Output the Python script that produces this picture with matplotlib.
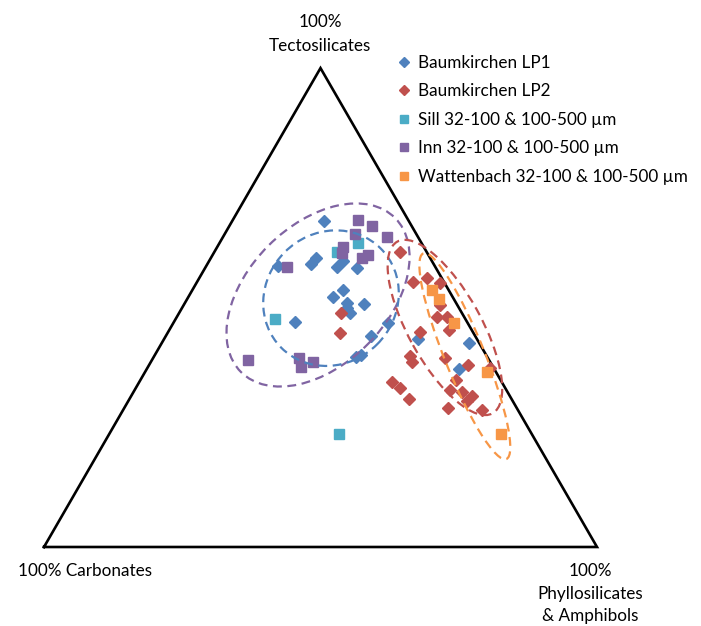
import matplotlib as mpl
mpl.use('Agg')
import matplotlib.pyplot as plt
from matplotlib.patches import Ellipse
import numpy as np

plt.rcParams['font.family'] = ['Lato', 'DejaVu Sans']

# ternary compositions in % : tecto (top), phyllo (bottom right); carbonates = rest
lp1_tecto = [68.1, 58.7, 59.1, 60.3, 58.5, 59.7, 58.2, 53.7, 52.2, 50.9, 49.9, 48.9, 50.7, 47.0, 46.8, 44.1, 39.7, 40.1, 43.4, 42.6, 37.2]
lp1_phyllo = [16.6, 13.0, 18.8, 19.0, 23.8, 24.2, 27.5, 27.3, 26.2, 29.3, 29.9, 30.9, 32.5, 21.9, 38.8, 37.0, 36.6, 37.3, 45.9, 55.6, 56.4]

lp2_tecto = [61.6, 55.3, 56.2, 55.1, 50.5, 48.0, 48.0, 45.3, 44.9, 48.9, 44.7, 39.9, 38.6, 39.5, 38.0, 34.9, 37.4, 34.4, 33.2, 30.9, 32.8, 32.4, 31.5, 30.5, 29.0, 28.6]
lp2_phyllo = [33.6, 39.0, 41.2, 44.0, 46.3, 47.1, 48.9, 50.5, 45.6, 29.3, 31.2, 46.3, 47.2, 52.8, 57.7, 57.1, 62.0, 45.7, 47.8, 50.5, 57.0, 59.4, 61.6, 61.3, 58.6, 64.9]

sill_tecto = [61.6, 63.5, 47.6, 23.6]
sill_phyllo = [22.2, 25.1, 18.0, 41.5]

inn_tecto = [68.3, 67.0, 64.7, 65.3, 62.6, 61.4, 60.3, 61.0, 58.5, 39.0, 39.5, 37.6, 38.6]
inn_phyllo = [22.7, 25.8, 29.6, 23.5, 22.8, 23.2, 27.3, 28.1, 14.7, 17.4, 26.4, 27.7, 29.3]

watt_tecto = [53.7, 51.8, 46.8, 36.5, 23.6]
watt_phyllo = [43.4, 45.5, 50.7, 61.8, 70.8]

labels = ['Baumkirchen LP1', 'Baumkirchen LP2', 'Sill 32-100 & 100-500 µm',
          'Inn 32-100 & 100-500 µm', 'Wattenbach 32-100 & 100-500 µm']
colors = ['#4F81BD', '#C0504D', '#4BACC6', '#8064A2', '#F79646']


def tern(tecto, phyllo):
    t = np.array(tecto) / 100.0
    p = np.array(phyllo) / 100.0
    x = p + t / 2.0
    y = t * np.sqrt(3) / 2.0
    return x, y


def px(x, y):
    # pixel position in the picture -> axes data coords
    return (x - 44) / 553.0, (547 - y) / 553.0


fig = plt.figure(figsize=(7.01, 6.26), dpi=100)
ax = fig.add_axes([0, 0, 1, 1])
ax.set_xlim(-44 / 553, 657 / 553)
ax.set_ylim(-79 / 553, 547 / 553)
ax.set_aspect('equal')
ax.axis('off')

# triangle
h = np.sqrt(3) / 2
ax.plot([0, 1, 0.5, 0], [0, 0, h, 0], color='black', lw=1.9, zorder=1, solid_joinstyle='miter')

series = [(lp1_tecto, lp1_phyllo, 'D', 6.4),
          (lp2_tecto, lp2_phyllo, 'D', 6.4),
          (sill_tecto, sill_phyllo, 's', 7.2),
          (inn_tecto, inn_phyllo, 's', 7.2),
          (watt_tecto, watt_phyllo, 's', 7.2)]
handles = []
for (t, p, m, ms), c, lab in zip(series, colors, labels):
    x, y = tern(t, p)
    ln, = ax.plot(x, y, linestyle='none', marker=m, ms=ms, color=c, mec=c, zorder=3, label=lab)
    handles.append(ln)

# dashed ellipses (drawn by hand in the original)
ell = [((0.4955, 0.4557), 0.394, 0.253, 45, colors[3]),
       ((0.519, 0.450), 0.254, 0.236, 45, colors[0]),
       ((0.725, 0.397), 0.355, 0.132, -61, colors[1]),
       ((0.761, 0.345), 0.401, 0.072, -68, colors[4])]
for cen, w, hh, ang, c in ell:
    e = Ellipse(cen, w, hh, angle=ang, fill=False, edgecolor=c, lw=1.6,
                linestyle=(0, (4, 2.5)), zorder=4)
    ax.add_patch(e)

fs = 12.3
ax.text(*px(320, 22), '100%', ha='center', va='center', fontsize=fs)
ax.text(*px(320, 46), 'Tectosilicates', ha='center', va='center', fontsize=fs)
ax.text(*px(18, 571), '100% Carbonates', ha='left', va='center', fontsize=fs)
ax.text(*px(590, 571), '100%', ha='center', va='center', fontsize=fs)
ax.text(*px(590, 594), 'Phyllosilicates', ha='center', va='center', fontsize=fs)
ax.text(*px(590, 616), '& Amphibols', ha='center', va='center', fontsize=fs)

leg = ax.legend(handles=handles, loc='upper left', bbox_to_anchor=(391 / 701, 1 - 46 / 626),
                frameon=False, fontsize=fs, markerscale=0.8, handlelength=0.55,
                handletextpad=0.55, labelspacing=0.74, borderpad=0, numpoints=1)

fig.savefig('out.png', dpi=100)
